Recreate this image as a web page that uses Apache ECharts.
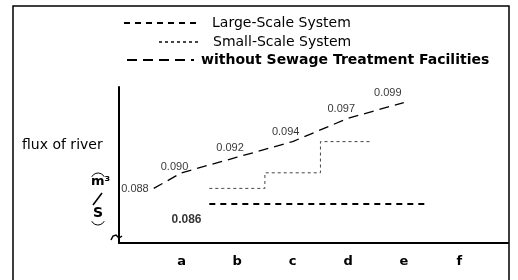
<!DOCTYPE html>
<html>
<head>
<meta charset="utf-8">
<script src="https://cdn.jsdelivr.net/npm/echarts@6/dist/echarts.min.js"></script>
<style>
html,body{margin:0;padding:0;background:#fff;}
#chart{width:518px;height:280px;}
</style>
</head>
<body>
<div id="chart"></div>
<script>
// ---- data ----
var categories = ['a', 'b', 'c', 'd', 'e', 'f'];
// x positions in category units (a = 1 ... f = 6)
var withoutX = [0.5, 1, 2, 3, 4, 5];
var withoutY = [0.088, 0.090, 0.092, 0.094, 0.097, 0.099];
var smallX = [1.5, 2, 3, 4, 4.4];
var smallY = [0.088, 0.088, 0.090, 0.094, 0.094];
var largeX = [1.5, 5.45];
var largeY = [0.086, 0.086];
var largeLabelX = [1];
var largeLabelY = [0.086];
var seriesNames = ['Large-Scale System', 'Small-Scale System', 'without Sewage Treatment Facilities'];

function pairs(xs, ys) { return xs.map(function (x, i) { return [x, ys[i]]; }); }

var lastIdx = withoutX.length - 1;
var withoutLabelData = pairs(withoutX, withoutY).map(function (p, i) {
  return {
    value: p,
    label: i === 0
      ? { position: 'left', distance: 5, offset: [0, 1] }
      : { position: 'top', distance: 4, offset: [i === lastIdx ? -16 : -7, i === 1 ? 4 : 0] }
  };
});

var chart = echarts.init(document.getElementById('chart'), null, { renderer: 'canvas' });
var numFont = { fontFamily: 'Liberation Sans Narrow, Liberation Sans, Arial, sans-serif', fontSize: 11, color: '#000' };
var fmt = function (p) { return p.value[1].toFixed(3); };
var legendCommon = { padding: 0, itemHeight: 14, selectedMode: false, itemStyle: { opacity: 0 } };

var option = {
  backgroundColor: '#fff',
  animation: false,
  grid: { left: 119, right: 10, top: 87, bottom: 37 },
  xAxis: {
    type: 'value', min: -0.125, max: 6.875, interval: 0.125,
    axisLine: { show: true, onZero: false, lineStyle: { color: '#000', width: 2 } },
    axisTick: { show: false }, splitLine: { show: false },
    axisLabel: {
      margin: 12, color: '#000', fontFamily: 'DejaVu Sans, sans-serif', fontSize: 13, fontWeight: 'bold',
      formatter: function (v) {
        var r = Math.round(v);
        if (Math.abs(v - r) < 1e-6 && r >= 1 && r <= categories.length) return categories[r - 1];
        return '';
      }
    }
  },
  yAxis: {
    type: 'value', min: 0.081, max: 0.101,
    axisLine: { show: true, onZero: false, lineStyle: { color: '#000', width: 2 } },
    axisTick: { show: false }, splitLine: { show: false }, axisLabel: { show: false }
  },
  legend: [
    Object.assign({ data: [seriesNames[0]], left: 123, top: 16, itemWidth: 77,
      textStyle: { color: '#000', fontFamily: 'DejaVu Sans, sans-serif', fontSize: 14, padding: [0, 0, 0, 6] } }, legendCommon),
    Object.assign({ data: [seriesNames[1]], left: 158, top: 35, itemWidth: 39,
      textStyle: { color: '#000', fontFamily: 'DejaVu Sans, sans-serif', fontSize: 14, padding: [0, 0, 0, 10] } }, legendCommon),
    Object.assign({ data: [seriesNames[2]], left: 126, top: 53, itemWidth: 67,
      textStyle: { color: '#000', fontFamily: 'DejaVu Sans, sans-serif', fontSize: 14, fontWeight: 'bold', padding: [0, 0, 0, 2] } }, legendCommon)
  ],
  graphic: [
    { type: 'rect', silent: true, z: 0, shape: { x: 13, y: 6, width: 496, height: 300 },
      style: { fill: 'none', stroke: '#000', lineWidth: 1.5 } },
    { type: 'text', left: 22, top: 138, style: { text: 'flux of river', fill: '#000', font: '14px DejaVu Sans' } },
    { type: 'arc', shape: { cx: 98, cy: 180, r: 7, startAngle: Math.PI * 1.15, endAngle: Math.PI * 1.85 },
      style: { stroke: '#000', lineWidth: 1, fill: 'none' } },
    { type: 'text', left: 91, top: 175, style: { text: 'm³', fill: '#000', font: 'bold 13px DejaVu Sans' } },
    { type: 'line', shape: { x1: 93, y1: 205, x2: 102, y2: 193 }, style: { stroke: '#000', lineWidth: 1.5 } },
    { type: 'text', left: 93, top: 206, style: { text: 'S', fill: '#000', font: 'bold 14px DejaVu Sans' } },
    { type: 'arc', shape: { cx: 98, cy: 218, r: 7, startAngle: Math.PI * 0.15, endAngle: Math.PI * 0.85 },
      style: { stroke: '#000', lineWidth: 1, fill: 'none' } },
    { type: 'polyline', shape: { points: [[111, 240], [113, 236], [116, 235], [119, 238], [122, 236]] },
      style: { stroke: '#000', lineWidth: 1.5, fill: 'none' } }
  ],
  series: [
    {
      name: seriesNames[0], type: 'line', symbol: 'none', data: pairs(largeX, largeY),
      lineStyle: { color: '#000', width: 2, type: [6, 5] }, itemStyle: { color: '#000' }
    },
    {
      name: seriesNames[1], type: 'line', symbol: 'none', step: 'middle', data: pairs(smallX, smallY),
      lineStyle: { color: '#444', width: 1, type: [3, 3] }, itemStyle: { color: '#444' }
    },
    {
      name: seriesNames[2], type: 'line', symbol: 'none', data: pairs(withoutX, withoutY),
      lineStyle: { color: '#000', width: 1.3, type: [10, 6] }, itemStyle: { color: '#000' }
    },
    {
      name: 'without-labels', type: 'scatter', symbolSize: 0, data: withoutLabelData,
      label: Object.assign({ show: true, formatter: fmt }, numFont)
    },
    {
      name: 'large-label', type: 'scatter', symbolSize: 0, data: pairs(largeLabelX, largeLabelY),
      label: Object.assign({ show: true, position: 'bottom', distance: 10, offset: [5, 0], formatter: fmt },
        numFont, { fontSize: 12, fontWeight: 'bold' })
    }
  ]
};
chart.setOption(option);
</script>
</body>
</html>
